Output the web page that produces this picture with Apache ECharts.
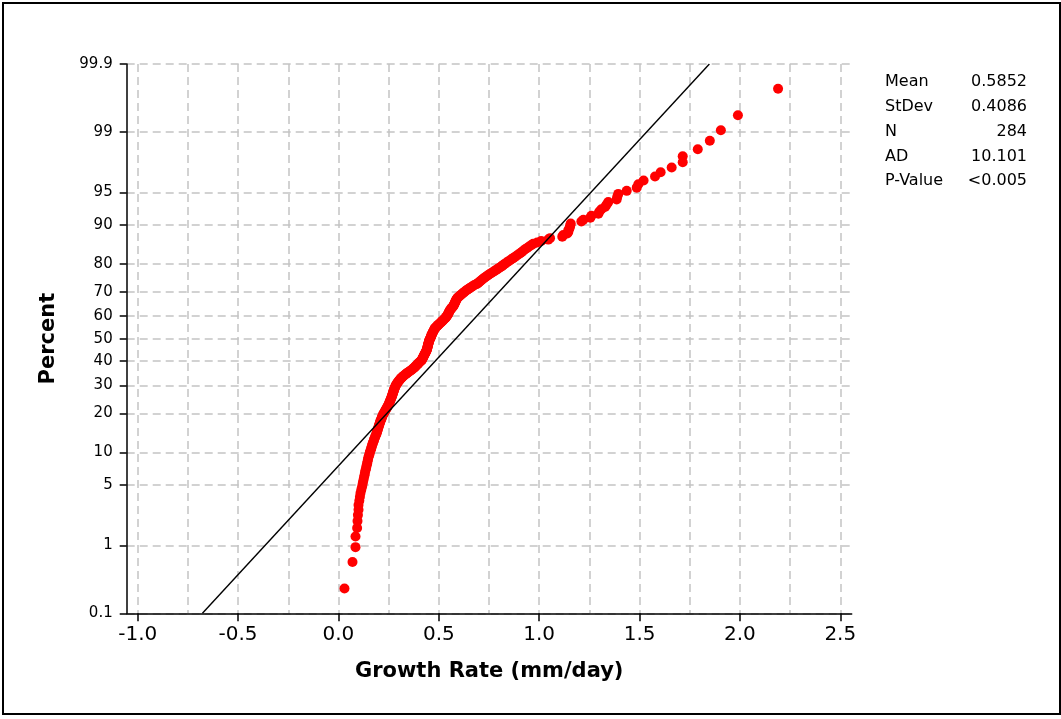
<!DOCTYPE html>
<html>
<head>
<meta charset="utf-8">
<script src="https://cdn.jsdelivr.net/npm/echarts@6/dist/echarts.min.js"></script>
<style>
html,body{margin:0;padding:0;background:#fff;}
#chart{width:1061px;height:719px;}
</style>
</head>
<body>
<div id="chart"></div>
<script>
// Growth rates (mm/day), sorted
const growthRates = [
0.030,0.070,0.085,0.085,0.093,0.095,0.097,0.100,0.100,0.104,
0.107,0.110,0.114,0.118,0.121,0.124,0.127,0.130,0.132,0.135,
0.138,0.140,0.143,0.145,0.147,0.149,0.152,0.155,0.157,0.160,
0.163,0.165,0.168,0.170,0.173,0.176,0.178,0.181,0.184,0.187,
0.190,0.192,0.194,0.196,0.198,0.200,0.202,0.204,0.206,0.208,
0.210,0.213,0.215,0.217,0.219,0.222,0.225,0.228,0.231,0.234,
0.237,0.240,0.243,0.246,0.249,0.251,0.253,0.255,0.257,0.259,
0.261,0.263,0.265,0.267,0.268,0.270,0.271,0.273,0.274,0.276,
0.277,0.279,0.281,0.283,0.285,0.287,0.290,0.293,0.296,0.299,
0.302,0.306,0.310,0.314,0.318,0.323,0.328,0.333,0.338,0.344,
0.350,0.356,0.362,0.367,0.372,0.377,0.381,0.385,0.389,0.393,
0.397,0.401,0.405,0.409,0.414,0.416,0.418,0.420,0.422,0.424,
0.426,0.428,0.430,0.432,0.434,0.436,0.438,0.440,0.441,0.442,
0.443,0.444,0.445,0.446,0.447,0.448,0.449,0.450,0.451,0.452,
0.454,0.456,0.458,0.459,0.461,0.462,0.464,0.466,0.467,0.469,
0.471,0.473,0.475,0.477,0.479,0.481,0.485,0.489,0.493,0.497,
0.501,0.506,0.510,0.514,0.518,0.522,0.526,0.530,0.534,0.537,
0.540,0.543,0.545,0.547,0.549,0.551,0.553,0.555,0.558,0.561,
0.565,0.568,0.572,0.574,0.576,0.578,0.580,0.582,0.584,0.586,
0.588,0.590,0.594,0.599,0.604,0.609,0.614,0.619,0.625,0.630,
0.636,0.642,0.649,0.656,0.663,0.670,0.677,0.688,0.695,0.700,
0.706,0.712,0.718,0.724,0.731,0.738,0.745,0.752,0.760,0.768,
0.776,0.784,0.792,0.800,0.808,0.816,0.822,0.830,0.838,0.846,
0.855,0.864,0.872,0.880,0.889,0.898,0.907,0.915,0.922,0.930,
0.940,0.950,0.960,0.970,0.990,1.010,1.045,1.054,1.115,1.120,
1.140,1.145,1.145,1.150,1.153,1.155,1.157,1.210,1.220,1.255,
1.260,1.295,1.300,1.310,1.328,1.336,1.344,1.386,1.389,1.394,
1.436,1.486,1.494,1.520,1.577,1.605,1.660,1.715,1.715,1.790,
1.850,1.905,1.990,2.190
];

const percentTicks = [0.1, 1, 5, 10, 20, 30, 40, 50, 60, 70, 80, 90, 95, 99, 99.9];
const percentTickLabels = ['0.1','1','5','10','20','30','40','50','60','70','80','90','95','99','99.9'];
const xLabelTicks = [-1.0, -0.5, 0.0, 0.5, 1.0, 1.5, 2.0, 2.5];
const xGridTicks = [-1.0,-0.75,-0.5,-0.25,0,0.25,0.5,0.75,1.0,1.25,1.5,1.75,2.0,2.25,2.5];

const statLabels = ['Mean','StDev','N','AD','P-Value'];
const statValues = ['0.5852','0.4086','284','10.101','<0.005'];
const fitMean = 0.5852;
const fitStDev = 0.4086;

// inverse standard normal CDF (probability scale of the y axis)
function invNorm(p){
  const a=[-3.969683028665376e+01,2.209460984245205e+02,-2.759285104469687e+02,1.383577518672690e+02,-3.066479806614716e+01,2.506628277459239e+00];
  const b=[-5.447609879822406e+01,1.615858368580409e+02,-1.556989798598866e+02,6.680131188771972e+01,-1.328068155288572e+01];
  const c=[-7.784894002430293e-03,-3.223964580411365e-01,-2.400758277161838e+00,-2.549732539343734e+00,4.374664141464968e+00,2.938163982698783e+00];
  const d=[7.784695709041462e-03,3.224671290700398e-01,2.445134137142996e+00,3.754408661907416e+00];
  const pl=0.02425, ph=1-pl; let q,r;
  if(p<pl){q=Math.sqrt(-2*Math.log(p));return (((((c[0]*q+c[1])*q+c[2])*q+c[3])*q+c[4])*q+c[5])/((((d[0]*q+d[1])*q+d[2])*q+d[3])*q+1);}
  if(p<=ph){q=p-0.5;r=q*q;return (((((a[0]*r+a[1])*r+a[2])*r+a[3])*r+a[4])*r+a[5])*q/(((((b[0]*r+b[1])*r+b[2])*r+b[3])*r+b[4])*r+1);}
  q=Math.sqrt(-2*Math.log(1-p));return -(((((c[0]*q+c[1])*q+c[2])*q+c[3])*q+c[4])*q+c[5])/((((d[0]*q+d[1])*q+d[2])*q+d[3])*q+1);
}

const n = growthRates.length;
const points = growthRates.map((x,i)=>[x, invNorm((i+1-0.3)/(n+0.4))]);
const yTickZ = percentTicks.map(p=>invNorm(p/100));
const zMin = yTickZ[0], zMax = yTickZ[yTickZ.length-1];
const fitLine = [[fitMean+fitStDev*zMin, zMin],[fitMean+fitStDev*zMax, zMax]];

const X_MIN = -1.0548, X_MAX = 2.5568;
const FONT = 'DejaVu Sans';
const gridLineStyle = {type:[8,5], color:'#c4c4c4', width:1.5};

const chart = echarts.init(document.getElementById('chart'), null, {renderer:'canvas'});

const graphic = [
  {type:'rect', shape:{x:3,y:3,width:1057,height:711}, style:{fill:'transparent', stroke:'#000', lineWidth:2}, silent:true}
];
statLabels.forEach((s,i)=>{
  const y = 82 + i*24.8;
  graphic.push({type:'text', x:885, y:y, style:{text:s, font:'16px "'+FONT+'"', fill:'#000', align:'left', verticalAlign:'middle'}});
  graphic.push({type:'text', x:1027, y:y, style:{text:statValues[i], font:'16px "'+FONT+'"', fill:'#000', align:'right', verticalAlign:'middle'}});
});

chart.setOption({
  animation:false,
  backgroundColor:'#fff',
  textStyle:{fontFamily:FONT},
  grid:{left:126.7, right:209.3, top:64, bottom:105.7, containLabel:false},
  xAxis:[
    {type:'value', min:X_MIN, max:X_MAX, position:'bottom',
     axisLine:{show:true, onZero:false, lineStyle:{color:'#000', width:1.5}},
     axisTick:{show:true, customValues:xLabelTicks, length:8, lineStyle:{color:'#000', width:1.5}},
     axisLabel:{show:true, customValues:xLabelTicks, formatter:v=>v.toFixed(1), fontSize:20, color:'#000', margin:11, fontFamily:FONT},
     splitLine:{show:false},
     name:'Growth Rate (mm/day)', nameLocation:'middle', nameGap:48,
     nameTextStyle:{fontWeight:'bold', fontSize:21, color:'#000', fontFamily:FONT}},
    {type:'value', min:X_MIN, max:X_MAX, position:'top',
     axisLine:{show:false}, axisTick:{show:false, customValues:xGridTicks},
     axisLabel:{show:false, customValues:xGridTicks},
     splitLine:{show:true, lineStyle:gridLineStyle}}
  ],
  yAxis:{type:'value', min:zMin, max:zMax,
     axisLine:{show:true, onZero:false, lineStyle:{color:'#000', width:1.5}},
     axisTick:{show:true, customValues:yTickZ, length:7, lineStyle:{color:'#000', width:1.5}},
     axisLabel:{show:true, customValues:yTickZ, fontSize:15, color:'#000', margin:14, fontFamily:FONT,
       formatter:v=>{let k=0,b=1e9;yTickZ.forEach((z,i)=>{const d=Math.abs(z-v);if(d<b){b=d;k=i;}});return percentTickLabels[k];}},
     splitLine:{show:true, lineStyle:gridLineStyle},
     name:'Percent', nameLocation:'middle', nameGap:68, nameRotate:90,
     nameTextStyle:{fontWeight:'bold', fontSize:21, color:'#000', fontFamily:FONT}},
  series:[
    {type:'scatter', xAxisIndex:0, data:points, symbol:'circle', symbolSize:10,
     itemStyle:{color:'#ff0000', opacity:1}, z:3, clip:false},
    {type:'line', xAxisIndex:0, data:fitLine, showSymbol:false, symbol:'none',
     lineStyle:{color:'#000', width:1.4}, z:4}
  ],
  graphic:graphic
});
</script>
</body>
</html>
